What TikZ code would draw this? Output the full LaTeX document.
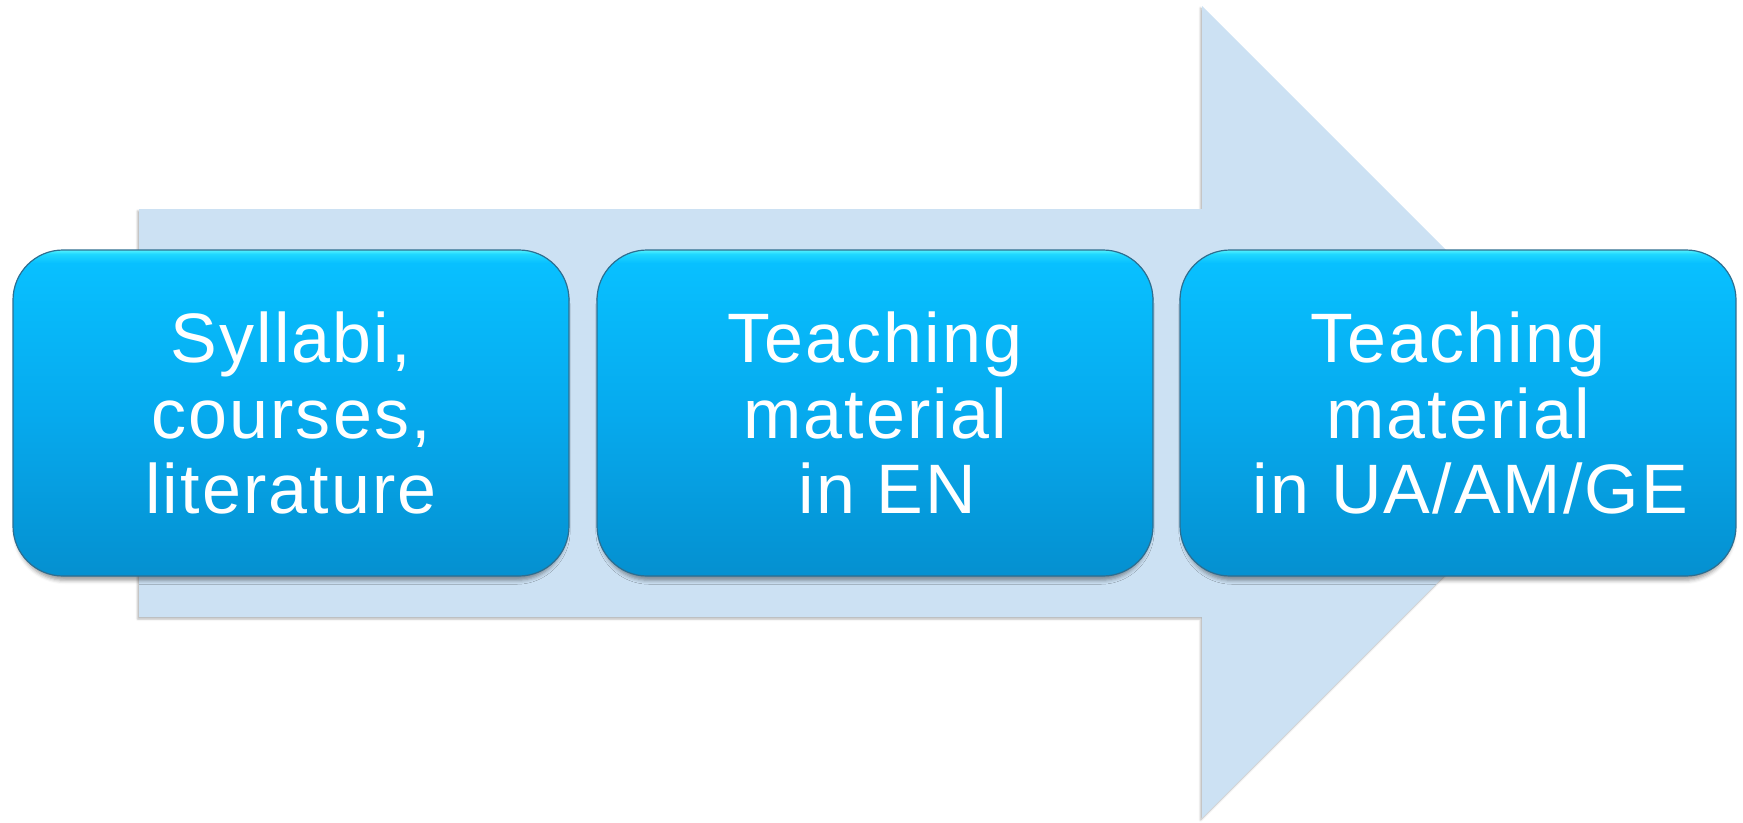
\documentclass[tikz,border=0pt]{standalone}
\usepackage{fontspec}
\setmainfont{Liberation Sans}[LetterSpace=3.0]
\usetikzlibrary{shadows.blur}
\definecolor{arrowfill}{HTML}{CCE1F3}
\definecolor{boxtop}{HTML}{08C0FF}
\definecolor{boxmid}{HTML}{06AAEE}
\definecolor{boxbot}{HTML}{0590D0}
\definecolor{boxhl}{HTML}{55F2FF}
\definecolor{boxhlb}{HTML}{20D8FF}
\definecolor{boxedge}{HTML}{2E6E90}
\pgfdeclareverticalshading{boxshade}{100bp}{color(0bp)=(boxbot); color(25bp)=(boxbot); color(50bp)=(boxmid); color(73bp)=(boxtop); color(74.4bp)=(boxhlb); color(75bp)=(boxhl); color(100bp)=(boxhl)}
\tikzset{
  stepbox/.style={rectangle, rounded corners=50pt, minimum width=556pt, minimum height=326pt,
    inner sep=0pt, shading=boxshade, draw=boxedge, line width=1.2pt, text=white, align=center,
    font=\fontsize{70}{75.5}\selectfont,
    blur shadow={shadow xshift=0pt, shadow yshift=-6pt, shadow blur radius=4pt, shadow blur extra rounding=0pt, shadow opacity=40, shadow scale=0.99}},
  bigarrow/.style={fill=arrowfill,
    blur shadow={shadow xshift=-1.5pt, shadow yshift=-2pt, shadow blur radius=2pt, shadow opacity=30}}
}
\begin{document}
\begin{tikzpicture}[x=1pt,y=-1pt]
\useasboundingbox (0,0) rectangle (1743,822);
\path[bigarrow] (139,209) -- (1202,209) -- (1202,6) -- (1608,412) -- (1202,818) -- (1202,617) -- (139,617) -- cycle;
\node[stepbox] (b1) at (291,413) {Syllabi,\\courses,\\literature};
\node[stepbox] (b2) at (875,413) {Teaching\\material\\\hspace*{25pt}in EN};
\node[stepbox] (b3) at (1458,413) {Teaching\\material\\\hspace*{25pt}in UA/AM/GE};
\end{tikzpicture}
\end{document}
